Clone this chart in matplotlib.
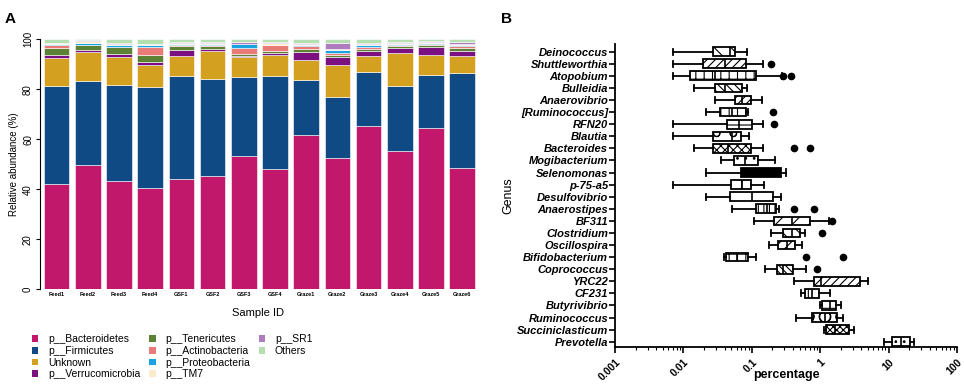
import numpy as np
import matplotlib.pyplot as plt
from matplotlib.patches import Patch

plt.rcParams['font.family'] = ['Liberation Sans', 'DejaVu Sans']
plt.rcParams['hatch.linewidth'] = 0.8

# ---- panel A data ----
samples = ['Feed1', 'Feed2', 'Feed3', 'Feed4', 'GSF1', 'GSF2', 'GSF3', 'GSF4',
           'Graze1', 'Graze2', 'Graze3', 'Graze4', 'Graze5', 'Graze6']
phyla = ['p__Bacteroidetes', 'p__Firmicutes', 'Unknown', 'p__Verrucomicrobia',
         'p__Tenericutes', 'p__Actinobacteria', 'p__Proteobacteria', 'p__TM7',
         'p__SR1', 'Others']
bacteroidetes = [42.1, 49.7, 43.3, 40.5, 44.3, 45.2, 53.5, 48.1, 61.7, 52.4, 65.3, 55.5, 64.5, 48.5]
firmicutes = [39.3, 33.7, 38.4, 40.3, 41.1, 38.9, 31.4, 37.3, 21.9, 24.4, 21.7, 25.8, 21.1, 37.9]
unknown = [11.0, 11.5, 11.2, 8.8, 8.0, 11.1, 8.1, 8.2, 8.2, 12.9, 6.3, 13.3, 8.1, 6.9]
verrucomicrobia = [1.4, 0.9, 1.1, 1.2, 2.2, 0.9, 0.3, 0.9, 3.2, 3.3, 2.1, 1.9, 3.2, 2.1]
tenericutes = [2.6, 1.8, 2.8, 2.9, 1.7, 1.4, 1.0, 1.0, 1.1, 0.7, 0.7, 0.7, 0.8, 1.1]
actinobacteria = [1.2, 0.3, 0.3, 3.1, 0.4, 0.4, 2.1, 2.1, 1.1, 0.8, 0.7, 0.7, 0.4, 0.7]
proteobacteria = [0.5, 0.8, 0.6, 1.0, 0.5, 0.3, 1.6, 0.3, 0.5, 1.3, 1.0, 0.3, 0.3, 0.7]
tm7 = [0.3, 0.7, 0.6, 0.3, 0.4, 0.3, 0.3, 0.8, 0.4, 0.5, 0.3, 0.4, 0.4, 0.3]
sr1 = [0.3, 0.2, 0.2, 0.2, 0.3, 0.3, 0.5, 0.3, 0.6, 2.1, 0.5, 0.5, 0.4, 0.8]
others = [1.3, 0.4, 1.5, 1.7, 1.1, 1.2, 1.2, 1.0, 1.3, 1.6, 1.4, 0.9, 0.8, 1.0]
phylum_colors = ['#C2186B', '#104A85', '#D4A020', '#7B1080', '#5E8235',
                 '#E87A78', '#1AA3E0', '#FCEBCB', '#B07CC0', '#B5DFB0']

# ---- panel B data (top to bottom) ----
genera = ['Deinococcus', 'Shuttleworthia', 'Atopobium', 'Bulleidia', 'Anaerovibrio',
          '[Ruminococcus]', 'RFN20', 'Blautia', 'Bacteroides', 'Mogibacterium',
          'Selenomonas', 'p-75-a5', 'Desulfovibrio', 'Anaerostipes', 'BF311',
          'Clostridium', 'Oscillospira', 'Bifidobacterium', 'Coprococcus', 'YRC22',
          'CF231', 'Butyrivibrio', 'Ruminococcus', 'Succiniclasticum', 'Prevotella']
whislo = [0.00715, 0.00715, 0.00715, 0.0142, 0.029, 0.0215, 0.00715, 0.00715, 0.0142, 0.0356,
          0.0215, 0.00715, 0.0215, 0.0521, 0.108, 0.192, 0.1775, 0.0394, 0.157, 0.421,
          0.521, 1.0, 0.446, 1.12, 8.65]
q1 = [0.0268, 0.0196, 0.0123, 0.029, 0.057, 0.0337, 0.043, 0.0268, 0.0268, 0.055,
      0.069, 0.0493, 0.048, 0.1156, 0.212, 0.29, 0.238, 0.042, 0.232, 0.817,
      0.603, 1.057, 0.755, 1.22, 11.2]
med = [0.048, 0.0407, 0.029, 0.0407, 0.073, 0.051, 0.0653, 0.051, 0.0456, 0.0798,
       0.148, 0.0715, 0.1, 0.166, 0.385, 0.385, 0.325, 0.0603, 0.29, 1.023,
       0.755, 1.4, 1.18, 1.66, 15.1]
q3 = [0.057, 0.0817, 0.1156, 0.0715, 0.0966, 0.0826, 0.1, 0.0698, 0.0966, 0.125,
      0.265, 0.0966, 0.203, 0.224, 0.714, 0.499, 0.43, 0.0873, 0.394, 3.85,
      0.966, 1.69, 1.79, 2.6, 20.7]
whishi = [0.0865, 0.145, 0.275, 0.0865, 0.1415, 0.089, 0.145, 0.0925, 0.145, 0.219,
          0.315, 0.151, 0.265, 0.251, 1.355, 0.603, 0.54, 0.1146, 0.624, 4.99,
          1.37, 2.0, 2.12, 3.08, 23.8]
fliers = [[], [0.19], [0.29, 0.372], [], [], [0.207], [0.212], [], [0.417, 0.698], [],
          [], [], [], [0.417, 0.817], [1.48], [1.057], [], [0.617, 2.19], [0.893], [],
          [], [], [], [], []]
hatches = ['\\\\', '////', '++', '\\\\\\\\', '////', '||', '-', 'o', 'xxxx', '..',
           None, '+', '', '|||', '//', '\\\\', '///', '++', '\\\\\\\\\\', '////',
           '|', '-', 'O', 'xxxxx', '..']

fig = plt.figure(figsize=(9.64, 3.85), dpi=100)

# ---------------- A ----------------
axA = fig.add_axes([0.0415, 0.2486, 0.4525, 0.6494])
series = [bacteroidetes, firmicutes, unknown, verrucomicrobia, tenericutes,
          actinobacteria, proteobacteria, tm7, sr1, others]
x = np.arange(len(samples))
bottom = np.zeros(len(samples))
for vals, name, c in zip(series, phyla, phylum_colors):
    axA.bar(x, vals, width=0.82, bottom=bottom, color=c, edgecolor='white',
            linewidth=0.4, label=name)
    bottom += np.array(vals)
axA.set_xlim(-0.53, 13.45)
axA.set_ylim(0, 100)
axA.set_yticks([0, 20, 40, 60, 80, 100])
axA.set_yticklabels(['0', '20', '40', '60', '80', '100'], rotation=90, va='center', fontsize=7)
axA.set_xticks(x)
axA.set_xticklabels(samples, fontsize=4, fontweight='bold')
axA.tick_params(axis='x', length=0, pad=2)
axA.tick_params(axis='y', length=3, width=0.8, pad=2)
for s in ['top', 'right', 'bottom']:
    axA.spines[s].set_visible(False)
axA.spines['left'].set_linewidth(0.8)
axA.set_ylabel('Relative abundance (%)', fontsize=7, labelpad=3)
axA.set_xlabel('Sample ID', fontsize=8, labelpad=8)

# legend: 3 columns of 4, 4, 2 (two blank slots pad the last column)
handles = [Patch(facecolor=c, edgecolor='none') for c in phylum_colors]
labels = list(phyla)
handles += [Patch(facecolor='none', edgecolor='none')] * 2
labels += ['', '']
fig.legend(handles, labels, loc='upper left', bbox_to_anchor=(0.028, 0.145),
           ncol=3, frameon=False, fontsize=7.5, handlelength=0.6, handleheight=0.6,
           handletextpad=0.9, columnspacing=0.9, labelspacing=0.15, borderpad=0)

# ---------------- B ----------------
axB = fig.add_axes([0.638, 0.0995, 0.3547, 0.7865])
n = len(genera)
pos = np.arange(n)[::-1]
stats = []
for i in range(n):
    stats.append(dict(whislo=whislo[i], q1=q1[i], med=med[i], q3=q3[i],
                      whishi=whishi[i], fliers=fliers[i]))
bp = axB.bxp(stats, positions=pos, widths=0.72, orientation='horizontal',
             patch_artist=True, showfliers=True, capwidths=0.5,
             boxprops=dict(facecolor='white', edgecolor='black', linewidth=1.3),
             medianprops=dict(color='black', linewidth=1.2),
             whiskerprops=dict(color='black', linewidth=1.3),
             capprops=dict(color='black', linewidth=1.3),
             flierprops=dict(marker='o', markerfacecolor='black',
                             markeredgecolor='black', markersize=4.5))
for box, h in zip(bp['boxes'], hatches):
    if h is None:
        box.set_facecolor('black')
    else:
        box.set_hatch(h)
axB.set_xscale('log')
axB.set_xlim(0.001, 100)
axB.set_ylim(-0.41, n - 1 + 0.64)
axB.set_yticks(pos)
axB.set_yticklabels(genera, fontsize=8, fontweight='bold', fontstyle='italic')
axB.set_xticks([0.001, 0.01, 0.1, 1, 10, 100])
axB.set_xticklabels(['0.001', '0.01', '0.1', '1', '10', '100'], rotation=45,
                    ha='right', rotation_mode='anchor', fontsize=7.5, fontweight='bold')
axB.tick_params(axis='both', which='major', length=4, width=1.2, direction='out')
axB.tick_params(axis='x', which='minor', length=2, width=0.8)
axB.tick_params(axis='y', pad=1)
for s in ['top', 'right']:
    axB.spines[s].set_visible(False)
for s in ['left', 'bottom']:
    axB.spines[s].set_linewidth(1.3)
axB.set_xlabel('percentage', fontsize=9, fontweight='bold', va='center')
axB.xaxis.set_label_coords(0.5, -0.093)
axB.set_ylabel('Genus', fontsize=9, labelpad=2)

fig.text(0.005, 0.97, 'A', fontsize=11, fontweight='bold', va='top')
fig.text(0.52, 0.97, 'B', fontsize=11, fontweight='bold', va='top')

fig.savefig('out.png', dpi=100)
